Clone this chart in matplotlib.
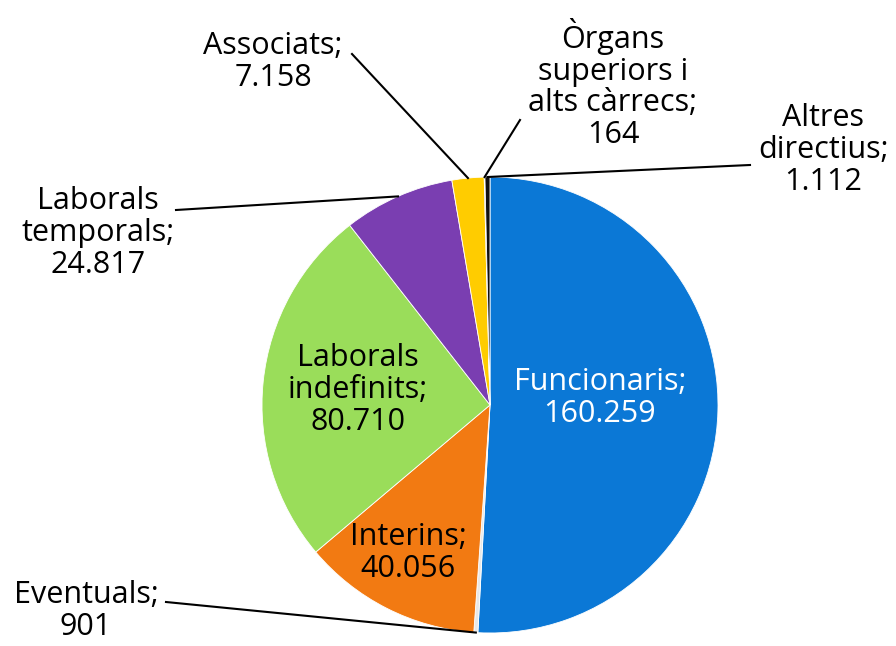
import numpy as np
import matplotlib.pyplot as plt

# data
labels = ["Funcionaris", "Eventuals", "Interins", "Laborals\nindefinits",
          "Laborals\ntemporals", "Associats", "Òrgans\nsuperiors i\nalts càrrecs",
          "Altres\ndirectius"]
values = [160259, 901, 40056, 80710, 24817, 7158, 164, 1112]
colors = ["#0B78D6", "#E8E8E8", "#F27A12", "#9ADD5A", "#7A3EB1", "#FFCC00", "#222222", "#111111"]

W, H = 896, 646
fig = plt.figure(figsize=(W / 100, H / 100), dpi=100)
ax = fig.add_axes([0, 0, 1, 1])

cx, cy, r = 490, H - 405, 228
wedges, _ = ax.pie(values, colors=colors, startangle=90, counterclock=False,
                   center=(cx, cy), radius=r, frame=True,
                   wedgeprops=dict(edgecolor="white", linewidth=0.6))
ax.set_xlim(0, W)
ax.set_ylim(0, H)
ax.axis("off")

plt.rcParams['font.family'] = ['Open Sans', 'DejaVu Sans']
fs = 22
ls = 1.08

def fmt(v):
    return f"{v:,}".replace(",", ".")

def edge_point(w, frac=1.0):
    ang = np.deg2rad((w.theta1 + w.theta2) / 2)
    return cx + r * frac * np.cos(ang), cy + r * frac * np.sin(ang)

# inside labels
inside = {0: (600, 398, "white"), 2: (408, 553, "black"), 3: (358, 390, "black")}
for i, (x, y, c) in inside.items():
    ax.text(x, H - y, f"{labels[i]};\n{fmt(values[i])}", ha="center", va="center",
            fontsize=fs, color=c, linespacing=ls)

# outside labels with leader lines: (text x, text y, line start x, line start y)
outside = {
    4: (98, 233, 176, 210),
    5: (273, 62, 352, 54),
    6: (613, 84, 520, 120),
    7: (823, 150, 750, 165),
    1: (86, 611, 166, 602),
}
for i, (tx, ty, lx, ly) in outside.items():
    px, py = edge_point(wedges[i], 1.0)
    ax.plot([lx, px], [H - ly, py], color="black", lw=1.5, zorder=5)
    ax.text(tx, H - ty, f"{labels[i]};\n{fmt(values[i])}", ha="center", va="center",
            fontsize=fs, color="black", linespacing=ls)

fig.savefig("out.png", dpi=100)
